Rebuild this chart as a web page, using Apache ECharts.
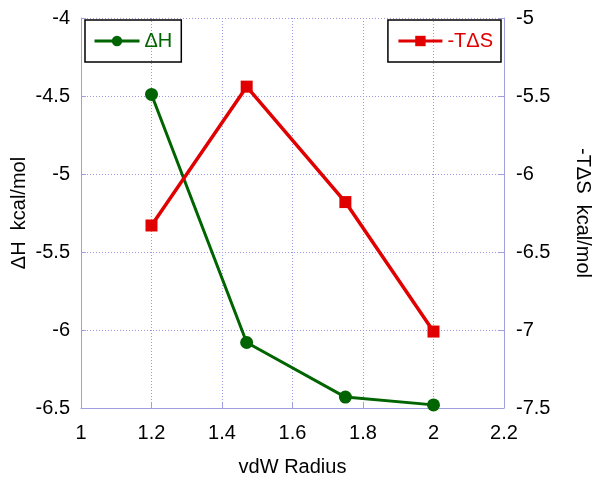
<!DOCTYPE html>
<html><head><meta charset="utf-8">
<script src="https://cdn.jsdelivr.net/npm/echarts@6/dist/echarts.min.js"></script>
<style>html,body{margin:0;padding:0;background:#fff}#c{width:600px;height:480px}</style>
</head><body><div id="c"></div>
<script>
const radius = [1.2, 1.47, 1.75, 2.0];
const dH = [-4.49, -6.08, -6.43, -6.48];
const mTdS = [-6.33, -5.44, -6.18, -7.01];
const xTicks = [1, 1.2, 1.4, 1.6, 1.8, 2, 2.2];

const chart = echarts.init(document.getElementById('c'));
const font = 'Liberation Sans, Arial, sans-serif';
const axisLineC = '#a0a0e0';
const gridC = '#9999e6';
chart.setOption({
  animation: false,
  backgroundColor: '#fff',
  textStyle: {fontFamily: font},
  grid: {left: 81, right: 96, top: 18, bottom: 72, containLabel: false, outerBoundsMode: 'none'},
  legend: [
    {data: ['ΔH'], left: 85, top: 20, padding: [11, 9, 11, 8], itemWidth: 45, itemHeight: 13,
     lineStyle: {width: 3},
     borderColor: '#000', borderWidth: 1.5, textStyle: {color: '#006400', fontSize: 20, fontFamily: font}},
    {data: ['-TΔS'], right: 99, top: 20, padding: [11, 8, 11, 9], itemWidth: 44, itemHeight: 13,
     lineStyle: {width: 3},
     borderColor: '#000', borderWidth: 1.5, textStyle: {color: '#e00000', fontSize: 20, fontFamily: font}}
  ],
  xAxis: {
    type: 'value', min: 1, max: 2.2, interval: 0.2,
    name: 'vdW Radius', nameLocation: 'middle', nameGap: 49,
    nameTextStyle: {fontSize: 20, color: '#000', fontFamily: font},
    axisLine: {lineStyle: {color: axisLineC, width: 1}},
    axisTick: {inside: true, length: 5, lineStyle: {color: axisLineC}},
    axisLabel: {fontSize: 20, color: '#000', margin: 15, fontFamily: font,
      formatter: v => { const t = xTicks.find(x => Math.abs(x - v) < 1e-6); return t === undefined ? '' : String(t); }},
    splitLine: {show: true, lineStyle: {color: gridC, type: [1, 2], width: 1}}
  },
  yAxis: [
    {type: 'value', min: -6.5, max: -4, interval: 0.5, position: 'left',
     name: 'ΔH  kcal/mol', nameLocation: 'middle', nameGap: 52, nameRotate: 90, nameMoveOverlap: false,
     nameTextStyle: {fontSize: 20, color: '#000', fontFamily: font},
     axisLine: {show: true, lineStyle: {color: axisLineC}},
     axisTick: {show: true, inside: true, length: 5, lineStyle: {color: axisLineC}},
     axisLabel: {fontSize: 20, color: '#000', margin: 11, fontFamily: font},
     splitLine: {show: true, lineStyle: {color: gridC, type: [1, 2], width: 1}}},
    {type: 'value', min: -7.5, max: -5, interval: 0.5, position: 'right',
     name: '-TΔS  kcal/mol', nameLocation: 'middle', nameGap: 69, nameRotate: -90,
     nameTextStyle: {fontSize: 20, color: '#000', fontFamily: font},
     axisLine: {show: true, lineStyle: {color: axisLineC}},
     axisTick: {show: true, inside: true, length: 5, lineStyle: {color: axisLineC}},
     axisLabel: {fontSize: 20, color: '#000', margin: 12, fontFamily: font},
     splitLine: {show: false}}
  ],
  series: [
    {name: 'ΔH', type: 'line', yAxisIndex: 0,
     data: radius.map((x, i) => [x, dH[i]]),
     symbol: 'circle', symbolSize: 13,
     lineStyle: {color: '#006400', width: 3}, itemStyle: {color: '#006400'}},
    {name: '-TΔS', type: 'line', yAxisIndex: 1,
     data: radius.map((x, i) => [x, mTdS[i]]),
     symbol: 'rect', symbolSize: 12,
     lineStyle: {color: '#e00000', width: 3.5}, itemStyle: {color: '#e00000'}}
  ]
});
</script></body></html>
